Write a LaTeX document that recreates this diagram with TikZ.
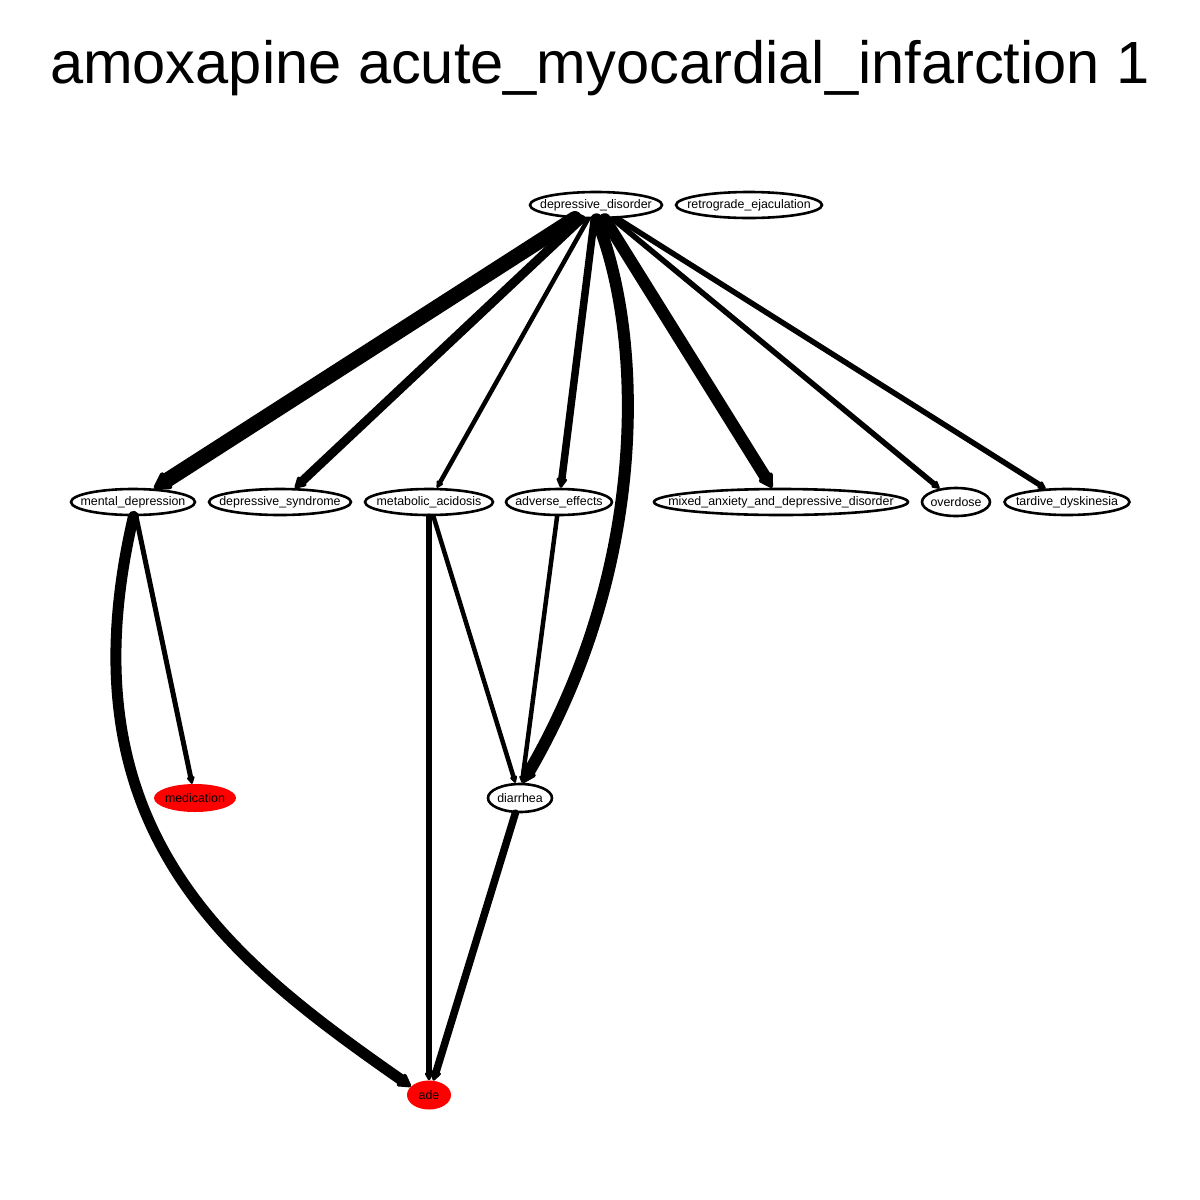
\documentclass[tikz,border=0pt]{standalone}
\usepackage{fontspec}
\setmainfont{Liberation Sans}
\usetikzlibrary{shapes.geometric,arrows.meta}
\tikzset{
  nd/.style={ellipse, draw=black, line width=2.6pt, fill=white, inner sep=0pt},
  rd/.style={ellipse, draw=none, fill=red, inner sep=0pt},
  lbl/.style={font=\fontsize{12.4}{14}\selectfont},
  ed/.style={draw=black, line cap=round, -{Triangle[length=3pt 1.1, width=2pt 1.3, round]}},
}
\begin{document}
\begin{tikzpicture}[x=1pt,y=-1pt]
\useasboundingbox (0,0) rectangle (1200,1200);
\fill[white] (0,0) rectangle (1200,1200);
\node[anchor=base, font=\fontsize{59.6}{70}\selectfont] (title) at (600,83) {amoxapine acute\_myocardial\_infarction 1};

\node[nd, minimum width=132pt, minimum height=26pt, label={[lbl]center:depressive\_disorder}] (dd) at (596,205) {};
\node[nd, minimum width=146pt, minimum height=26pt, label={[lbl]center:retrograde\_ejaculation}] (re) at (749,205) {};
\node[nd, minimum width=124pt, minimum height=26pt, label={[lbl]center:mental\_depression}] (md) at (133,502) {};
\node[nd, minimum width=142pt, minimum height=26pt, label={[lbl]center:depressive\_syndrome}] (ds) at (280,502) {};
\node[nd, minimum width=128pt, minimum height=26pt, label={[lbl]center:metabolic\_acidosis}] (ma) at (429,502) {};
\node[nd, minimum width=106pt, minimum height=26pt, label={[lbl]center:adverse\_effects}] (ae) at (559,502) {};
\node[nd, minimum width=254pt, minimum height=26pt, label={[lbl]center:mixed\_anxiety\_and\_depressive\_disorder}] (mx) at (781,502) {};
\node[nd, minimum width=68pt, minimum height=28pt, label={[lbl]center:overdose}] (od) at (956,502) {};
\node[nd, minimum width=125pt, minimum height=26pt, label={[lbl]center:tardive\_dyskinesia}] (td) at (1067,502) {};
\node[rd, minimum width=82pt, minimum height=28pt, label={[lbl]center:medication}] (me) at (195,798) {};
\node[nd, minimum width=64pt, minimum height=28pt, label={[lbl]center:diarrhea}] (di) at (520,798) {};
\node[rd, minimum width=44pt, minimum height=29pt, label={[lbl]center:ade}] (ade) at (429,1095) {};

\draw[ed, line width=15pt] (dd) -- (md);
\draw[ed, line width=9pt] (dd) -- (ds);
\draw[ed, line width=4.5pt] (dd) -- (ma);
\draw[ed, line width=7.5pt] (dd) -- (ae);
\draw[ed, line width=12pt] (dd.-88) .. controls (642,330) and (652,560) .. (di.80);
\draw[ed, line width=12pt] (dd) -- (mx);
\draw[ed, line width=5.5pt] (dd) -- (od);
\draw[ed, line width=5.5pt] (dd) -- (td);
\draw[ed, line width=5pt] (md) -- (me);
\draw[ed, line width=11pt] (md.-88) .. controls (60,830) and (230,960) .. (ade.155);
\draw[ed, line width=5.5pt] (ma) -- (ade);
\draw[ed, line width=4.5pt] (ma) -- (di);
\draw[ed, line width=4.5pt] (ae) -- (di);
\draw[ed, line width=7.5pt] (di) -- (ade);
\end{tikzpicture}
\end{document}
